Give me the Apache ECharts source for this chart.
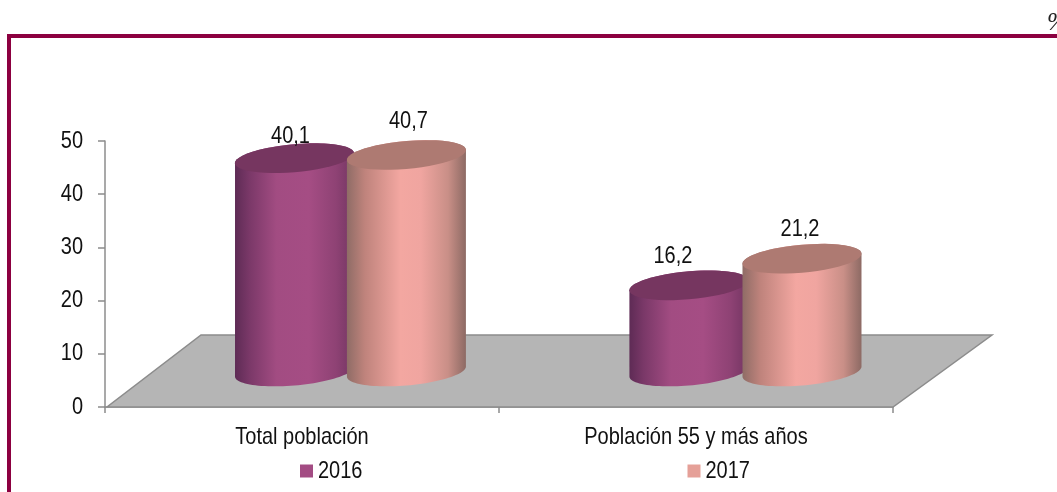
<!DOCTYPE html>
<html>
<head>
<meta charset="utf-8">
<style>html,body{margin:0;padding:0;background:#fff;overflow:hidden}#c{width:1057px;height:492px}</style>
<script src="https://cdn.jsdelivr.net/npm/echarts@6/dist/echarts.min.js"></script>
</head>
<body>
<div id="c"></div>
<script>
const categories = ['Total población', 'Población 55 y más años'];
const seriesNames = ['2016', '2017'];
const values2016 = [40.1, 16.2];
const values2017 = [40.7, 21.2];
const yTicks = { min: 0, max: 50, interval: 10 };

const FONT = '"Liberation Sans", sans-serif';
const TEXT_STRETCH = 1.2;                 // the reference type is a tall, narrow face
const AXIS = '#8c8c8c';
const RX = 59.5, RY = 14, SHEAR = 5;      // cylinder ellipse
const BASE_DEPTH = 35.5;                  // base centre above the axis line
const FLOOR_DX = 96, FLOOR_DY = 72;       // perspective offset of the floor
const looks = [
  { legend: '#A34C83', top: '#763660', shift: [-0.019, -0.018],
    body: [[0, '#5e2b55'], [0.12, '#7a3868'], [0.35, '#a24c82'], [0.62, '#a54d84'], [0.85, '#8e4274'], [1, '#733562']] },
  { legend: '#E5A098', top: '#AE7A72', shift: [0.265, 0.269],
    body: [[0, '#8f6c66'], [0.15, '#bf837c'], [0.45, '#f3a7a1'], [0.62, '#f0a5a0'], [0.85, '#c98f87'], [1, '#8d6a64']] }
];
// label nudges from the top centre of each cylinder: [series][category]
const labelNudge = [[[-4, -21.5], [-16, -28.5]], [[2, -34], [-2, -29.5]]];

function ellipseArc(cx, cy, from, to) {
  const pts = [];
  const n = 48;
  for (let i = 0; i <= n; i++) {
    const t = from + (to - from) * i / n;
    pts.push([cx + RX * Math.cos(t), cy + RY * Math.sin(t) - SHEAR * Math.cos(t)]);
  }
  return pts;
}

function cylinderRenderer(sIdx) {
  return function (params, api) {
    const cat = api.value(0), val = api.value(1);
    const top = api.coord([cat, val]);
    const base = api.coord([cat, 0]);
    const band = api.size([1, 0])[0];
    const cx = base[0] + band * looks[sIdx].shift[cat];
    const cyBase = base[1] - BASE_DEPTH;
    const cyTop = top[1] - BASE_DEPTH;
    const front = ellipseArc(cx, cyBase, 0, Math.PI);
    const back = ellipseArc(cx, cyTop, Math.PI, 2 * Math.PI);
    const nudge = labelNudge[sIdx][cat];
    return {
      type: 'group',
      children: [
        { type: 'polygon', shape: { points: front.concat(back) },
          style: { fill: new echarts.graphic.LinearGradient(0, 0, 1, 0,
            looks[sIdx].body.map(s => ({ offset: s[0], color: s[1] }))) } },
        { type: 'polygon', shape: { points: ellipseArc(cx, cyTop, 0, 2 * Math.PI) },
          style: { fill: looks[sIdx].top } },
        { type: 'text', z2: 10,
          style: { x: cx + nudge[0], y: cyTop + nudge[1], text: String(val).replace('.', ','),
            font: '20px ' + FONT, fill: '#111', align: 'center', verticalAlign: 'middle' } }
      ]
    };
  };
}

function floorRenderer(params) {
  const cs = params.coordSys;
  const x0 = cs.x + 2, x1 = cs.x + cs.width, y = cs.y + cs.height;
  return {
    type: 'polygon',
    shape: { points: [[x0, y], [x1, y], [x1 + FLOOR_DX + 3, y - FLOOR_DY], [cs.x + FLOOR_DX, y - FLOOR_DY]] },
    style: { fill: '#b5b5b5', stroke: AXIS, lineWidth: 1.5 }
  };
}

const chart = echarts.init(document.getElementById('c'), null, { renderer: 'canvas' });
chart.setOption({
  animation: false,
  backgroundColor: '#fff',
  textStyle: { fontFamily: FONT },
  grid: { left: 105, right: 164, top: 141, bottom: 85, containLabel: false },
  xAxis: {
    type: 'category', data: categories,
    axisLine: { lineStyle: { color: AXIS, width: 1.5 } },
    axisTick: { show: true, length: 6, lineStyle: { color: AXIS, width: 1.5 } },
    axisLabel: { fontSize: 20, color: '#111', margin: 20, fontFamily: FONT }
  },
  yAxis: {
    type: 'value', min: yTicks.min, max: yTicks.max, interval: yTicks.interval,
    splitLine: { show: false },
    axisLine: { show: true, lineStyle: { color: AXIS, width: 1.5 } },
    axisTick: { show: true, length: 7, lineStyle: { color: AXIS, width: 1.5 } },
    axisLabel: { fontSize: 20, color: '#111', margin: 22, fontFamily: FONT }
  },
  legend: {
    data: seriesNames, left: 300, top: 461, padding: 0, itemWidth: 13, itemHeight: 13, itemGap: 325,
    icon: 'rect', textStyle: { fontSize: 20, color: '#111', fontFamily: FONT },
    selectedMode: false
  },
  series: [
    { type: 'custom', name: 'floor', z: 1, clip: false, silent: true, renderItem: floorRenderer, data: [[0, 0]] },
    { type: 'custom', name: seriesNames[0], z: 2, clip: false, itemStyle: { color: looks[0].legend },
      encode: { x: 0, y: 1 }, renderItem: cylinderRenderer(0), data: values2016.map((v, i) => [i, v]) },
    { type: 'custom', name: seriesNames[1], z: 3, clip: false, itemStyle: { color: looks[1].legend },
      encode: { x: 0, y: 1 }, renderItem: cylinderRenderer(1), data: values2017.map((v, i) => [i, v]) }
  ],
  graphic: [
    { type: 'rect', left: 7, top: 34, shape: { width: 1050, height: 4 }, style: { fill: '#8C0040' } },
    { type: 'rect', left: 7, top: 34, shape: { width: 4, height: 458 }, style: { fill: '#8C0040' } },
    { type: 'text', x: 1047, y: 11, style: { text: '%', font: 'italic 25px "Liberation Serif", serif', fill: '#222' } }
  ]
});

// Stretch the drawn text vertically about its own middle, to imitate the narrow face.
function stretchText(el) {
  if (el.type === 'text' && el.style && el.style.text != null && el.style.text !== '%') {
    const s = el.style;
    const h = el.getBoundingRect ? el.getBoundingRect() : null;
    el.originY = h ? h.y + h.height / 2 : (s.y || 0);
    el.scaleY = TEXT_STRETCH;
    el.dirty();
  } else if (el.children && el.isGroup && el.type !== 'text') {
    el.children().forEach(stretchText);
  }
}
chart.getZr().storage.getRoots().forEach(stretchText);
chart.getZr().refreshImmediately();
</script>
</body>
</html>
